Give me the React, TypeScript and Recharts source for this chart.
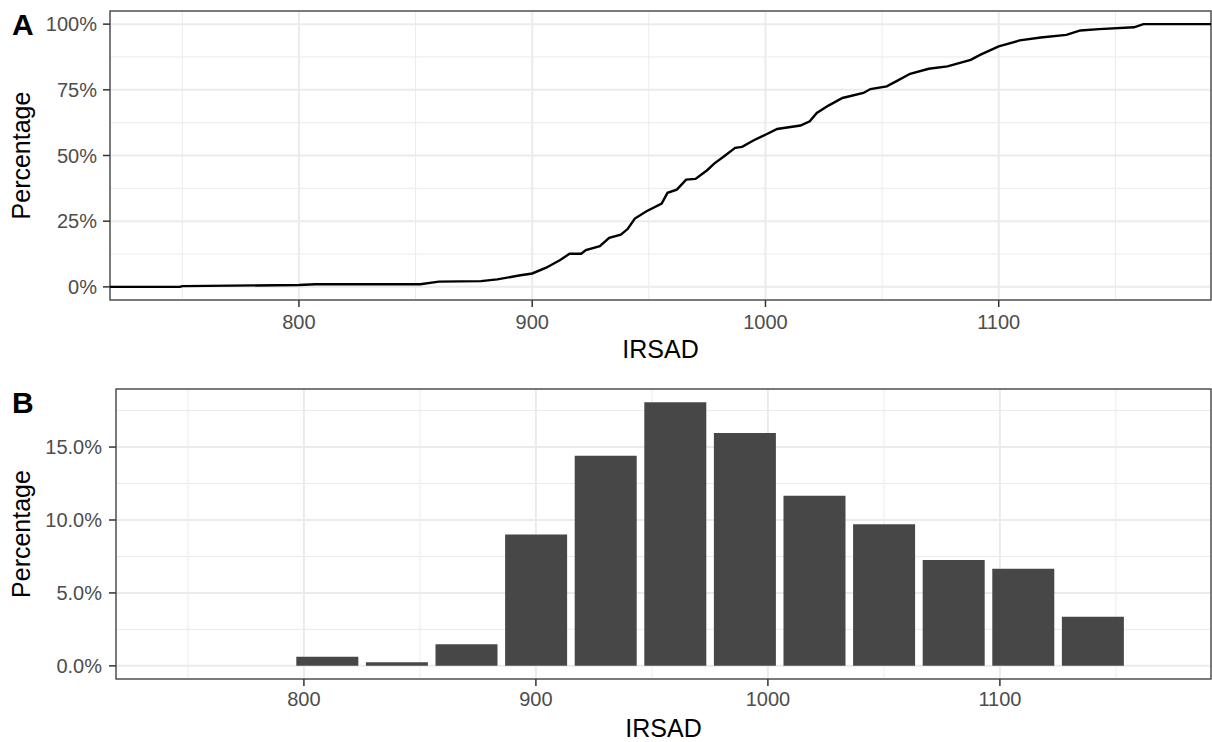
import {
  LineChart,
  Line,
  BarChart,
  Bar,
  XAxis,
  YAxis,
  CartesianGrid,
  ReferenceArea,
} from 'recharts'

// ECDF of IRSAD (panel A)
const ecdfIrsad = [
  719, 749, 750, 800, 807, 852, 860, 878, 885, 895, 900, 906, 912, 916, 921, 923, 929, 933, 938,
  941, 944, 949, 955.5, 958, 962, 966, 970, 975, 978, 982, 987, 990, 995, 1000, 1005, 1015, 1019,
  1022, 1027, 1033, 1042, 1045, 1052, 1056, 1062, 1070, 1078, 1088, 1092, 1100, 1109, 1118, 1129,
  1135, 1143, 1158, 1162, 1191,
]
const ecdfPct = [
  0, 0, 0.3, 0.7, 1.0, 1.0, 2.0, 2.2, 2.85, 4.4, 5.1, 7.3, 10.2, 12.6, 12.6, 14.0, 15.5, 18.7, 19.9,
  22.1, 26.0, 28.8, 31.7, 35.8, 37.0, 40.8, 41.1, 44.4, 46.9, 49.5, 52.9, 53.3, 55.8, 57.9, 60.1,
  61.4, 63.0, 66.2, 69.0, 71.9, 73.8, 75.3, 76.3, 78.2, 81.1, 83.0, 83.9, 86.4, 88.3, 91.5, 93.8,
  94.9, 95.9, 97.6, 98.1, 98.8, 100, 100,
]

// histogram bins (panel B), bin centres and share in %
const binMid = [810, 840, 870, 900, 930, 960, 990, 1020, 1050, 1080, 1110, 1140]
const binPct = [0.62, 0.25, 1.48, 9.01, 14.4, 18.08, 15.96, 11.66, 9.7, 7.26, 6.66, 3.36]

const xMajor = [800, 900, 1000, 1100]
const xMinor = [750, 850, 950, 1050, 1150]
const xDomain: [number, number] = [719, 1191]

const aYMajor = [0, 25, 50, 75, 100]
const aYMinor = [12.5, 37.5, 62.5, 87.5]
const aYDomain: [number, number] = [-5, 105]

const bYMajor = [0, 5, 10, 15]
const bYMinor = [2.5, 7.5, 12.5, 17.5]
const bYDomain: [number, number] = [-0.9, 18.98]

const ecdfData = ecdfIrsad.map((x, i) => ({ x, pct: ecdfPct[i] }))
const histData = binMid.map((x, i) => ({ x, pct: binPct[i] }))

const FONT = '"Liberation Sans", Arial, sans-serif'
const TICK_STYLE = { fontFamily: FONT, fontSize: 20, fill: '#4D4D4D' }
const TITLE_STYLE = { fontFamily: FONT, fontSize: 25, fill: '#000000' }
const TICK_LINE = { stroke: '#333333', strokeWidth: 1.5 }
const GRID_MAJOR = '#EBEBEB'

function PanelA() {
  return (
    <LineChart
      width={1212}
      height={370}
      data={ecdfData}
      margin={{ top: 11, right: 1, bottom: 0, left: 0 }}
    >
      <XAxis xAxisId="minor" type="number" dataKey="x" domain={xDomain} ticks={xMinor} allowDataOverflow hide />
      <YAxis yAxisId="minor" type="number" domain={aYDomain} ticks={aYMinor} allowDataOverflow hide />
      <CartesianGrid xAxisId="minor" yAxisId="minor" stroke={GRID_MAJOR} strokeWidth={1} />
      <CartesianGrid stroke={GRID_MAJOR} strokeWidth={2} />
      <XAxis
        type="number"
        dataKey="x"
        domain={xDomain}
        ticks={xMajor}
        allowDataOverflow
        height={70}
        axisLine={false}
        tickSize={7}
        tickMargin={8}
        tickLine={TICK_LINE}
        tick={TICK_STYLE}
        label={{ value: 'IRSAD', position: 'insideBottom', offset: 12, style: TITLE_STYLE }}
      />
      <YAxis
        type="number"
        domain={aYDomain}
        ticks={aYMajor}
        allowDataOverflow
        width={110}
        axisLine={false}
        tickSize={7}
        tickMargin={6}
        tickLine={TICK_LINE}
        tick={TICK_STYLE}
        tickFormatter={(v: number) => `${v}%`}
        label={{
          value: 'Percentage',
          angle: -90,
          position: 'insideLeft',
          offset: 21,
          style: { ...TITLE_STYLE, textAnchor: 'middle' },
        }}
      />
      <Line
        type="linear"
        dataKey="pct"
        stroke="#000000"
        strokeWidth={2.4}
        dot={false}
        activeDot={false}
        isAnimationActive={false}
      />
      <ReferenceArea
        x1={xDomain[0]}
        x2={xDomain[1]}
        y1={aYDomain[0]}
        y2={aYDomain[1]}
        fill="none"
        stroke="#555555"
        strokeWidth={1.5}
        ifOverflow="visible"
      />
    </LineChart>
  )
}

function PanelB() {
  return (
    <BarChart
      width={1212}
      height={372}
      data={histData}
      margin={{ top: 19, right: 1, bottom: 0, left: 0 }}
    >
      <XAxis xAxisId="minor" type="number" dataKey="x" domain={xDomain} ticks={xMinor} allowDataOverflow hide />
      <YAxis yAxisId="minor" type="number" domain={bYDomain} ticks={bYMinor} allowDataOverflow hide />
      <CartesianGrid xAxisId="minor" yAxisId="minor" stroke={GRID_MAJOR} strokeWidth={1} />
      <CartesianGrid stroke={GRID_MAJOR} strokeWidth={2} />
      <XAxis
        type="number"
        dataKey="x"
        domain={xDomain}
        ticks={xMajor}
        allowDataOverflow
        height={63}
        axisLine={false}
        tickSize={7}
        tickMargin={6}
        tickLine={TICK_LINE}
        tick={TICK_STYLE}
        label={{ value: 'IRSAD', position: 'insideBottom', offset: 5, style: TITLE_STYLE }}
      />
      <YAxis
        type="number"
        domain={bYDomain}
        ticks={bYMajor}
        allowDataOverflow
        width={116}
        axisLine={false}
        tickSize={7}
        tickMargin={7}
        tickLine={TICK_LINE}
        tick={TICK_STYLE}
        tickFormatter={(v: number) => `${v.toFixed(1)}%`}
        label={{
          value: 'Percentage',
          angle: -90,
          position: 'insideLeft',
          offset: 21,
          style: { ...TITLE_STYLE, textAnchor: 'middle' },
        }}
      />
      <Bar dataKey="pct" fill="#474747" barSize={62} isAnimationActive={false} />
      <ReferenceArea
        x1={xDomain[0]}
        x2={xDomain[1]}
        y1={bYDomain[0]}
        y2={bYDomain[1]}
        fill="none"
        stroke="#555555"
        strokeWidth={1.5}
        ifOverflow="visible"
      />
    </BarChart>
  )
}

export default function App() {
  return (
    <div style={{ position: 'absolute', left: 0, top: 0, width: 1212, height: 742, background: '#ffffff' }}>
      <div style={{ position: 'absolute', left: 0, top: 0 }}>
        <PanelA />
      </div>
      <div style={{ position: 'absolute', left: 0, top: 370 }}>
        <PanelB />
      </div>
      {/* panel tags */}
      <svg
        width={1212}
        height={742}
        style={{ position: 'absolute', left: 0, top: 0, pointerEvents: 'none' }}
      >
        <text x={12} y={35} fontFamily={FONT} fontSize={30} fontWeight="bold" fill="#000">
          A
        </text>
        <text x={12} y={413} fontFamily={FONT} fontSize={30} fontWeight="bold" fill="#000">
          B
        </text>
      </svg>
    </div>
  )
}
